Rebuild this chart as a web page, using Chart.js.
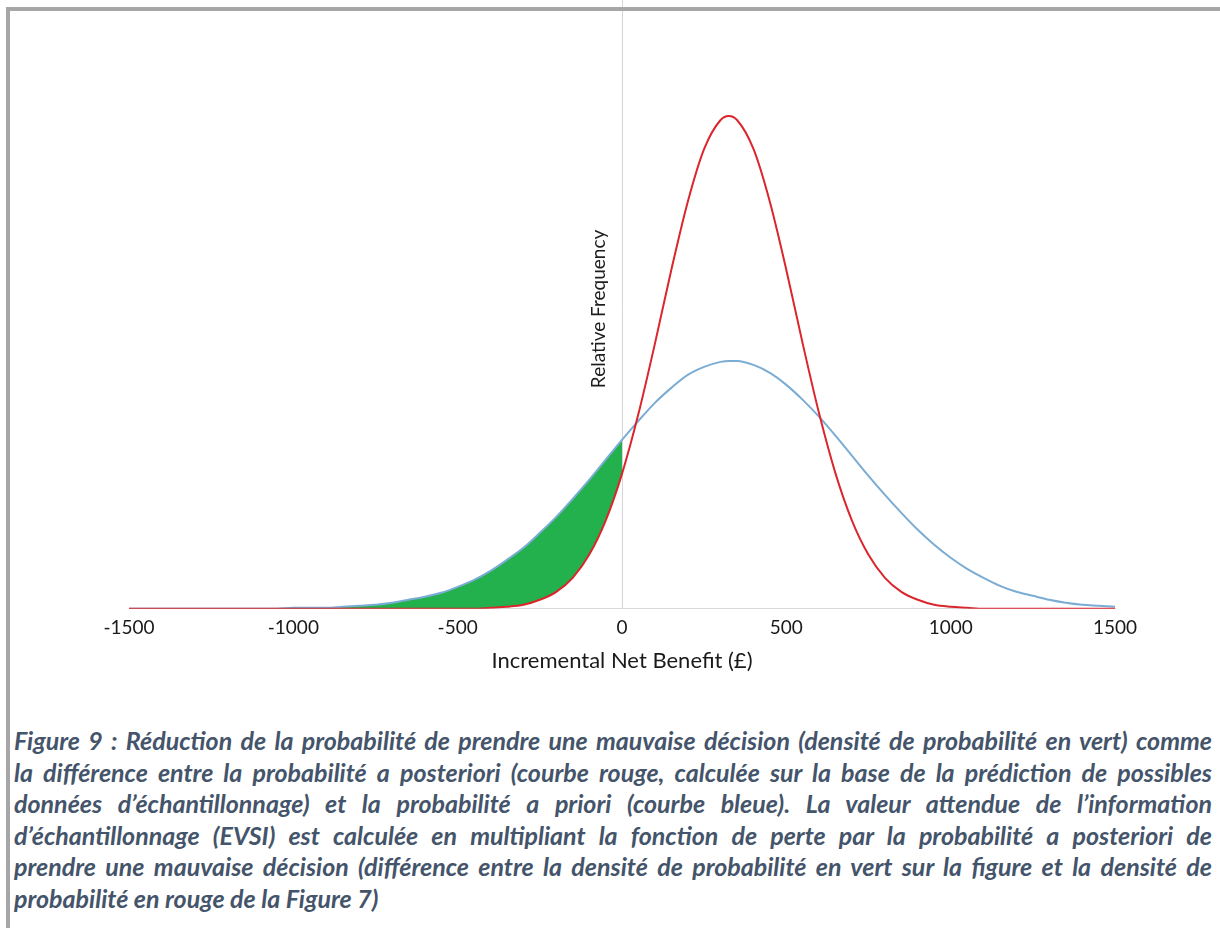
<!DOCTYPE html>
<html lang="fr">
<head>
<meta charset="utf-8">
<title>Figure 9</title>
<script src="https://cdn.jsdelivr.net/npm/chart.js@4/dist/chart.umd.min.js"></script>
<style>
    body { margin: 0; background: #fff; width: 1220px; height: 928px; overflow: hidden; position: relative; }
    #cadre-haut { position: absolute; left: 6px; top: 7px; width: 1214px; height: 4px; background: #a6a6a6; z-index: 2; }
    #cadre-gauche { position: absolute; left: 6px; top: 7px; width: 4px; height: 921px; background: #a6a6a6; z-index: 2; }
    #graphe { position: absolute; left: 0; top: 0; }
    #legende { position: absolute; left: 14px; top: 725px; width: 1198px;
        font-family: Lato, sans-serif; font-weight: 700; font-style: italic; font-size: 25px;
        line-height: 31.6px; color: #44546a; }
    #legende div { white-space: nowrap; text-align: justify; text-align-last: justify; }
    #legende div.fin { text-align-last: left; }
</style>
</head>
<body>
<div id="cadre-haut"></div>
<div id="cadre-gauche"></div>
<canvas id="graphe" width="1220" height="690"></canvas>
<div id="legende">
    <div>Figure 9 : Réduction de la probabilité de prendre une mauvaise décision (densité de probabilité en vert) comme</div>
    <div>la différence entre la probabilité a posteriori (courbe rouge, calculée sur la base de la prédiction de possibles</div>
    <div>données d’échantillonnage) et la probabilité a priori (courbe bleue). La valeur attendue de l’information</div>
    <div>d’échantillonnage (EVSI) est calculée en multipliant la fonction de perte par la probabilité a posteriori de</div>
    <div>prendre une mauvaise décision (différence entre la densité de probabilité en vert sur la figure et la densité de</div>
    <div class="fin">probabilité en rouge de la Figure 7)</div>
</div>
<script>
// valeurs (fréquence relative, unité arbitraire)
const beneficeNet = [-1500, -1450, -1400, -1350, -1300, -1250, -1200, -1150, -1100, -1050,
    -1000, -950, -900, -850, -800, -750, -700, -650, -600, -550,
    -500, -450, -400, -350, -300, -250, -200, -150, -100, -50,
    0, 50, 100, 150, 200, 250, 300, 325, 350, 400,
    450, 500, 550, 600, 650, 700, 750, 800, 850, 900,
    950, 1000, 1050, 1100, 1150, 1200, 1250, 1300, 1350, 1400,
    1450, 1500]

const aPosteriori = [0, 0, 0, 0, 0, 0, 0, 0, 0, 0,
    0, 0, 0, 0, 0, 0, 0, 0, 0, 0,
    0, 0, 0.01, 0.02, 0.04, 0.09, 0.17, 0.31, 0.54, 0.88,
    1.35, 1.95, 2.65, 3.39, 4.07, 4.60, 4.89, 4.93, 4.89, 4.60,
    4.07, 3.39, 2.65, 1.95, 1.35, 0.88, 0.54, 0.31, 0.17, 0.09,
    0.04, 0.02, 0.01, 0, 0, 0, 0, 0, 0, 0,
    0, 0]

const aPriori = [0, 0, 0, 0, 0, 0, 0, 0, 0, 0,
    0.01, 0.01, 0.01, 0.02, 0.03, 0.04, 0.06, 0.09, 0.12, 0.16,
    0.22, 0.29, 0.38, 0.49, 0.61, 0.76, 0.92, 1.10, 1.29, 1.49,
    1.69, 1.88, 2.06, 2.21, 2.34, 2.42, 2.47, 2.48, 2.48, 2.44,
    2.36, 2.24, 2.09, 1.92, 1.73, 1.53, 1.33, 1.14, 0.96, 0.79,
    0.64, 0.51, 0.40, 0.31, 0.23, 0.17, 0.13, 0.09, 0.06, 0.04,
    0.03, 0.02]

const graduations = [-1500, -1000, -500, 0, 500, 1000, 1500]
const titreX = 'Incremental Net Benefit (£)'
const titreY = 'Relative Frequency'

const points = valeurs => beneficeNet.map((b, i) => ({ x: b, y: valeurs[i] }))
const negatifs = valeurs => points(valeurs).filter(p => p.x <= 0)

// ligne verticale en 0 et titre de l'axe des fréquences
const axeZero = {
    id: 'axeZero',
    beforeDatasetsDraw: chart => {
        const { ctx, chartArea, scales: { x } } = chart
        const px = Math.round(x.getPixelForValue(0)) + 0.5
        ctx.save()
        ctx.strokeStyle = '#d6d6d6'
        ctx.lineWidth = 1
        ctx.beginPath()
        ctx.moveTo(px, 0)
        ctx.lineTo(px, chartArea.bottom)
        ctx.stroke()
        ctx.translate(px - 24, (chartArea.top + chartArea.bottom) / 2)
        ctx.rotate(-Math.PI / 2)
        ctx.font = '19px Lato'
        ctx.fillStyle = '#1e1e1e'
        ctx.textAlign = 'center'
        ctx.textBaseline = 'middle'
        ctx.fillText(titreY, 0, 0)
        ctx.restore()
    }
}

const ctx = document.getElementById('graphe').getContext('2d')

const graphe = new Chart(ctx, {
    type: 'line',
    data: {
        datasets: [{
            data: negatifs(aPosteriori),
            borderWidth: 0,
            pointRadius: 0,
            fill: false,
            cubicInterpolationMode: 'monotone',
            order: 3
        }, {
            data: negatifs(aPriori),
            borderWidth: 0,
            pointRadius: 0,
            backgroundColor: '#22b14c',
            fill: '-1',
            cubicInterpolationMode: 'monotone',
            order: 2
        }, {
            data: points(aPosteriori),
            borderColor: '#da262c',
            borderWidth: 2,
            pointRadius: 0,
            fill: false,
            cubicInterpolationMode: 'monotone',
            order: 0
        }, {
            data: points(aPriori),
            borderColor: '#7aacd4',
            borderWidth: 2,
            pointRadius: 0,
            fill: false,
            cubicInterpolationMode: 'monotone',
            order: 1
        }]
    },
    options: {
        responsive: false,
        animation: false,
        devicePixelRatio: 1,
        layout: { padding: { left: 129, right: 105, top: 9, bottom: 13 } },
        plugins: { legend: { display: false }, tooltip: { enabled: false } },
        scales: {
            x: {
                type: 'linear',
                min: -1500,
                max: 1500,
                afterBuildTicks: axe => { axe.ticks = graduations.map(v => ({ value: v })) },
                ticks: {
                    padding: 8,
                    color: '#1a1a1a',
                    font: { family: 'Lato', size: 19 },
                    callback: v => String(v)
                },
                grid: { drawOnChartArea: false, drawTicks: false },
                border: { color: '#d9d9d9', width: 1 },
                title: {
                    display: true,
                    text: titreX,
                    color: '#1a1a1a',
                    font: { family: 'Lato', size: 22 },
                    padding: { top: 0, bottom: 3 }
                }
            },
            y: { display: false, min: 0, max: 6 }
        }
    },
    plugins: [axeZero]
})
</script>
</body>
</html>
